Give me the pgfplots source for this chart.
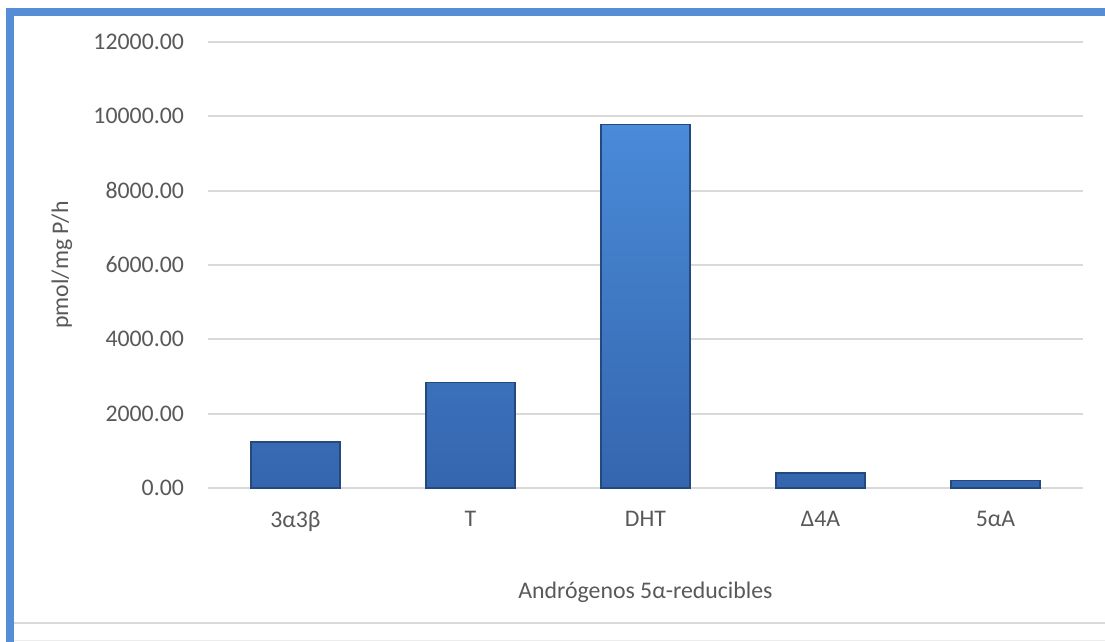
\documentclass[border=0pt]{standalone}
\usepackage{pgfplots}
\pgfplotsset{compat=1.18}
\usepackage{fontspec}
\setmainfont{Carlito}
\definecolor{txt}{HTML}{595959}
\definecolor{gridc}{HTML}{D9D9D9}
\definecolor{framec}{HTML}{558ED5}
\definecolor{btop}{HTML}{4A8AD8}
\definecolor{bbot}{HTML}{3466AE}
\definecolor{bedge}{HTML}{24497F}
\begin{document}
\begin{tikzpicture}[x=1pt,y=1pt]
\useasboundingbox (0,0) rectangle (552.5,321);
\fill[white] (0,0) rectangle (552.5,321);
\begin{axis}[
  at={(104pt,77pt)}, anchor=south west,
  scale only axis, width=437.5pt, height=223pt,
  xmin=-0.5, xmax=4.5, ymin=0, ymax=12000,
  xtick={0,1,2,3,4},
  xticklabels={3α3β,T,DHT,Δ4A,5αA},
  ytick={0,2000,4000,6000,8000,10000,12000},
  scaled y ticks=false,
  yticklabel={\pgfmathprintnumber[fixed,fixed zerofill,precision=2,1000 sep={},assume math mode=true]{\tick}},
  axis line style={draw=none},
  major tick length=0pt,
  ymajorgrids=true, xmajorgrids=false,
  grid style={draw=gridc, line width=1pt},
  tick label style={font=\fontsize{11.9}{14}\selectfont, text=txt},
  yticklabel style={xshift=-8.5pt},
  xticklabel style={yshift=-8pt},
  xlabel={Andrógenos 5α-reducibles},
  ylabel={pmol/mg P/h},
  label style={font=\fontsize{11.9}{14}\selectfont, text=txt},
  xlabel style={at={(axis description cs:0.5,-0.233)}, anchor=center},
  ylabel style={at={(axis description cs:-0.167,0.5)}, anchor=center},
  clip=false,
]
\addplot[ybar, bar width=0.509, top color=btop, bottom color=bbot, draw=bedge, line width=0.6pt]
  coordinates {(0,1235) (1,2845) (2,9770) (3,403) (4,196)};
\end{axis}
\draw[gridc, line width=1pt] (7,9.35) -- (552.5,9.35);
\draw[gridc!50, line width=0.5pt] (7,0.5) -- (552.5,0.5);
\draw[framec, line width=4pt] (3,315.15) -- (552.5,315.15);
\draw[framec, line width=4pt] (5,317.15) -- (5,0);
\end{tikzpicture}
\end{document}
